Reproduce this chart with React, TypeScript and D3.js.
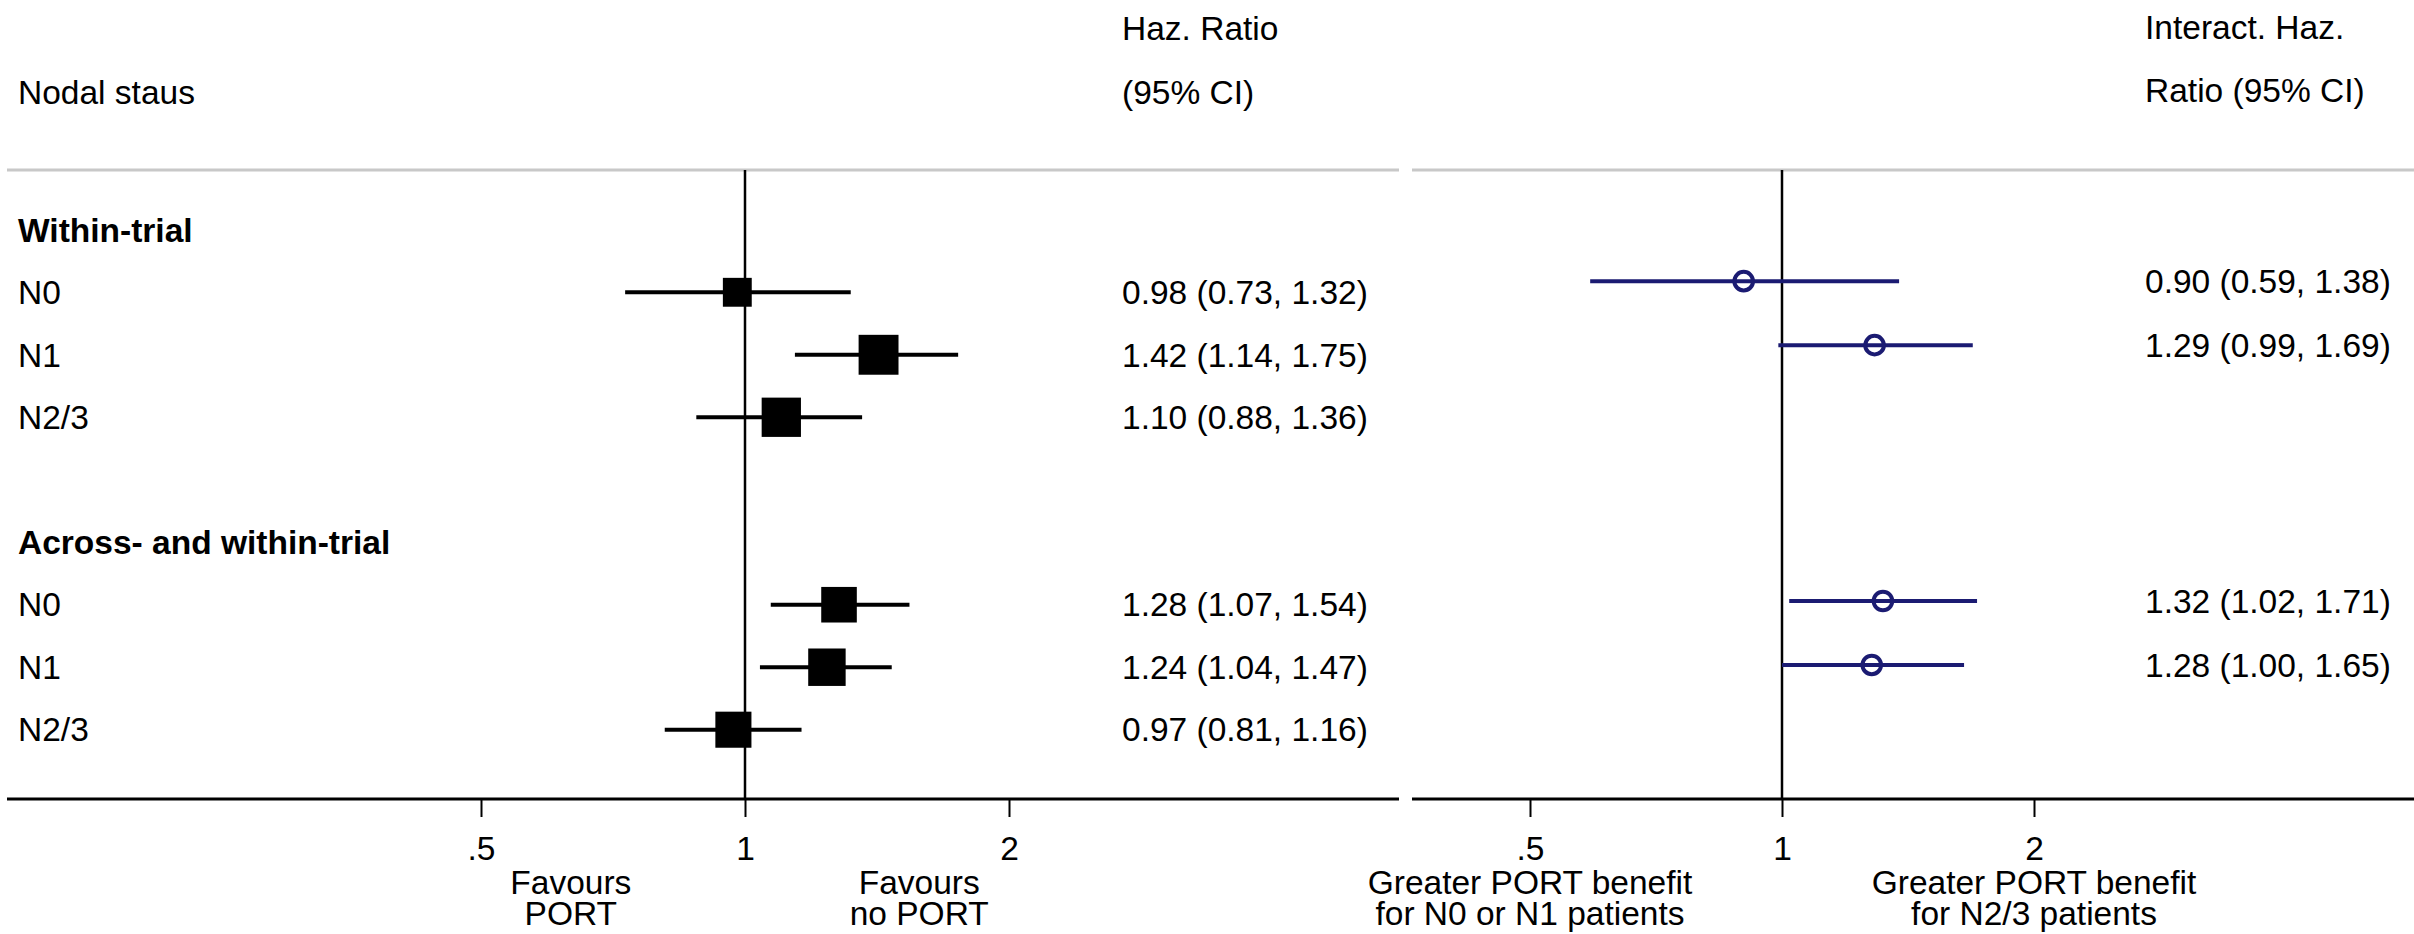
import React, { useEffect, useRef } from 'react'
import * as d3 from 'd3'

// rows of the left panel
const groups = ['Within-trial', 'Across- and within-trial']
const nodal = ['N0', 'N1', 'N2/3']

// hazard ratios (within-trial first, then across- and within-trial)
const hr = [0.98, 1.42, 1.10, 1.28, 1.24, 0.97]
const hrLo = [0.73, 1.14, 0.88, 1.07, 1.04, 0.81]
const hrHi = [1.32, 1.75, 1.36, 1.54, 1.47, 1.16]

// interaction hazard ratios, N0 and N1 vs N2/3
const intNodal = ['N0', 'N1']
const ihr = [0.90, 1.29, 1.32, 1.28]
const ihrLo = [0.59, 0.99, 1.02, 1.00]
const ihrHi = [1.38, 1.69, 1.71, 1.65]

const xTicks = [0.5, 1, 2]
const xTickLabels = ['.5', '1', '2']

const W = 2414
const H = 934
const FONT = '"Liberation Sans", Arial, sans-serif'
const NAVY = '#1b1b72'

const fmt = (v, lo, hi) => `${v.toFixed(2)} (${lo.toFixed(2)}, ${hi.toFixed(2)})`

export default function App() {
  const ref = useRef(null)

  useEffect(() => {
    const svg = d3.select(ref.current)
    svg.selectAll('*').remove()

    const left = { x0: 7, x1: 1399 }
    const right = { x0: 1412, x1: W }
    const sepY = 170
    const axisY = 799

    const xL = d3.scaleLog().base(2).domain([0.5, 2]).range([481, 1009])
    const xR = d3.scaleLog().base(2).domain([0.5, 2]).range([1530, 2034])
    const yL = d3.scaleLinear().domain([0, 8]).range([229.8, 729.7])
    const yR = d3.scaleLinear().domain([0, 8]).range([217.2, 728.9])

    // box size from inverse-variance weight, share within each group
    const se = hr.map((d, i) => (Math.log(hrHi[i]) - Math.log(hrLo[i])) / 3.92)
    const w = se.map(s => 1 / (s * s))
    const share = w.map((d, i) => {
      const g = Math.floor(i / nodal.length)
      return d / d3.sum(w.slice(g * nodal.length, (g + 1) * nodal.length))
    })
    const box = d3.scaleSqrt().domain([0, 1]).range([0, 63])

    const text = (x, y, s, opts = {}) =>
      svg.append('text')
        .attr('x', x).attr('y', y).attr('dy', '0.35em')
        .attr('font-family', FONT).attr('font-size', 33.5)
        .attr('font-weight', opts.bold ? 'bold' : 'normal')
        .attr('text-anchor', opts.anchor || 'start')
        .attr('fill', '#000')
        .text(s)

    // headers
    text(18, 92, 'Nodal staus')
    text(1122, 28, 'Haz. Ratio')
    text(1122, 92, '(95% CI)')
    text(2145, 27, 'Interact. Haz.')
    text(2145, 90, 'Ratio (95% CI)')

    // separators and axis lines
    ;[left, right].forEach(p => {
      svg.append('line').attr('x1', p.x0).attr('x2', p.x1).attr('y1', sepY).attr('y2', sepY)
        .attr('stroke', '#c8c8c8').attr('stroke-width', 3)
      svg.append('line').attr('x1', p.x0).attr('x2', p.x1).attr('y1', axisY).attr('y2', axisY)
        .attr('stroke', '#000').attr('stroke-width', 3)
    })

    // axes
    const drawAxis = (x) => {
      const g = svg.append('g').attr('transform', `translate(0,${axisY})`)
        .call(d3.axisBottom(x).tickValues(xTicks).tickSize(18)
          .tickFormat((d, i) => xTickLabels[i]))
      g.select('.domain').remove()
      g.selectAll('.tick line').attr('stroke', '#000').attr('stroke-width', 2)
      g.selectAll('.tick text')
        .attr('y', 49).attr('dy', '0.35em')
        .attr('font-family', FONT).attr('font-size', 33.5).attr('fill', '#000')
    }
    drawAxis(xL)
    drawAxis(xR)

    // reference lines at 1
    svg.append('line').attr('x1', xL(1)).attr('x2', xL(1)).attr('y1', sepY).attr('y2', axisY)
      .attr('stroke', '#000').attr('stroke-width', 2.5)
    svg.append('line').attr('x1', xR(1)).attr('x2', xR(1)).attr('y1', sepY).attr('y2', axisY)
      .attr('stroke', '#000').attr('stroke-width', 2.5)

    // favours labels
    text(xL(0.633), 882, 'Favours', { anchor: 'middle' })
    text(xL(0.633), 913, 'PORT', { anchor: 'middle' })
    text(xL(1.58), 882, 'Favours', { anchor: 'middle' })
    text(xL(1.58), 913, 'no PORT', { anchor: 'middle' })
    text(xR(0.5), 882, 'Greater PORT benefit', { anchor: 'middle' })
    text(xR(0.5), 913, 'for N0 or N1 patients', { anchor: 'middle' })
    text(xR(2), 882, 'Greater PORT benefit', { anchor: 'middle' })
    text(xR(2), 913, 'for N2/3 patients', { anchor: 'middle' })

    // left panel rows
    groups.forEach((gname, gi) => {
      const base = gi * 5
      text(18, yL(base), gname, { bold: true })
      nodal.forEach((n, j) => {
        const i = gi * nodal.length + j
        const y = yL(base + 1 + j)
        text(18, y, n)
        svg.append('line').attr('x1', xL(hrLo[i])).attr('x2', xL(hrHi[i]))
          .attr('y1', y).attr('y2', y).attr('stroke', '#000').attr('stroke-width', 4)
        const s = box(share[i])
        svg.append('rect').attr('x', xL(hr[i]) - s / 2).attr('y', y - s / 2)
          .attr('width', s).attr('height', s).attr('fill', '#000')
        text(1122, y, fmt(hr[i], hrLo[i], hrHi[i]))
      })
    })

    // right panel rows
    groups.forEach((gname, gi) => {
      const base = gi * 5
      intNodal.forEach((n, j) => {
        const i = gi * intNodal.length + j
        const y = yR(base + 1 + j)
        svg.append('line').attr('x1', xR(ihrLo[i])).attr('x2', xR(ihrHi[i]))
          .attr('y1', y).attr('y2', y).attr('stroke', NAVY).attr('stroke-width', 4)
        svg.append('circle').attr('cx', xR(ihr[i])).attr('cy', y).attr('r', 9.3)
          .attr('fill', 'none').attr('stroke', NAVY).attr('stroke-width', 4)
        text(2145, y, fmt(ihr[i], ihrLo[i], ihrHi[i]))
      })
    })
  }, [])

  return (
    <svg ref={ref} width={W} height={H}
      style={{ position: 'absolute', left: 0, top: 0, background: '#fff', display: 'block' }} />
  )
}
